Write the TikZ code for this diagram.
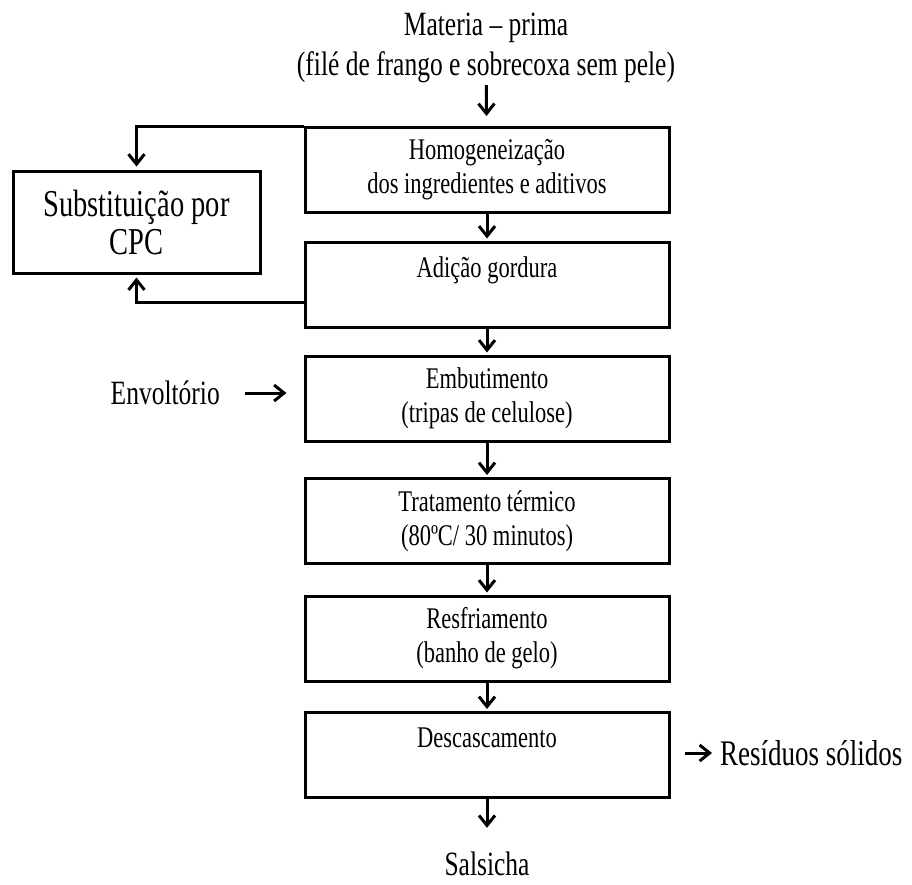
\documentclass[tikz,border=0pt]{standalone}
\usepackage{fontspec}
\setmainfont{Liberation Serif}[FakeStretch=0.75]
\usetikzlibrary{arrows.meta}
\tikzset{etapa/.style={draw, line width=3pt, minimum width=364pt, minimum height=85pt,
                       inner sep=0pt, align=center, font=\fontsize{30}{34}\selectfont},
         rotulo/.style={inner sep=2pt, align=center, font=\fontsize{34}{40}\selectfont},
         seta/.style={line width=3pt, -{Straight Barb[length=10pt,width=16pt]}}}

\begin{document}
\begin{tikzpicture}[x=1pt,y=-1pt]
\useasboundingbox (0,0) rectangle (912,884);

% Entrada e saida
\node[rotulo] (mat)  at (486,48)  {Materia – prima\\(filé de frango e sobrecoxa sem pele)};
\node[rotulo] (sals) at (487,864) {Salsicha};

% Etapas do processo
\node[etapa] (homog) at (487,170)   {Homogeneização\\dos ingredientes e aditivos};
\node[etapa] (gord)  at (487,284.5) {Adição gordura\\\mbox{}};
\node[etapa] (embut) at (487,398.5) {Embutimento\\(tripas de celulose)};
\node[etapa] (trat)  at (487,521)   {Tratamento térmico\\(80ºC/ 30 minutos)};
\node[etapa] (resf)  at (487,638.5) {Resfriamento\\(banho de gelo)};
\node[etapa] (desc)  at (487,755)   {Descascamento\\\mbox{}};

% Desvio lateral
\node[etapa, minimum width=247pt, minimum height=102pt,
      font=\fontsize{38}{38}\selectfont] (cpc) at (136.5,222) {Substituição por\\CPC};

\node[rotulo, anchor=east] (env) at (222,393) {Envoltório};
\node[rotulo, anchor=west, font=\fontsize{36}{40}\selectfont] (res) at (718,753) {Resíduos sólidos};

% Fluxo principal
\draw[seta, shorten >=10pt] (mat) -- (homog);
\foreach \a/\b in {homog/gord, gord/embut, embut/trat, trat/resf, resf/desc}
  \draw[seta, shorten >=2pt] (\a) -- (\b);
\draw[seta, shorten >=22pt] (desc) -- (sals);

% Entradas e saidas laterais
\draw[seta, shorten <=23pt, shorten >=17pt] (env) -- (env -| embut.west);
\draw[seta, shorten <=14pt, shorten >=6pt] (res -| desc.east) -- (res);

% Ligacoes com a caixa CPC
\draw[seta, shorten >=3pt] (homog.north west) -| (cpc.north);
\draw[seta, shorten >=3pt] ([yshift=-18pt]gord.west) -| (cpc.south);

\end{tikzpicture}
\end{document}
